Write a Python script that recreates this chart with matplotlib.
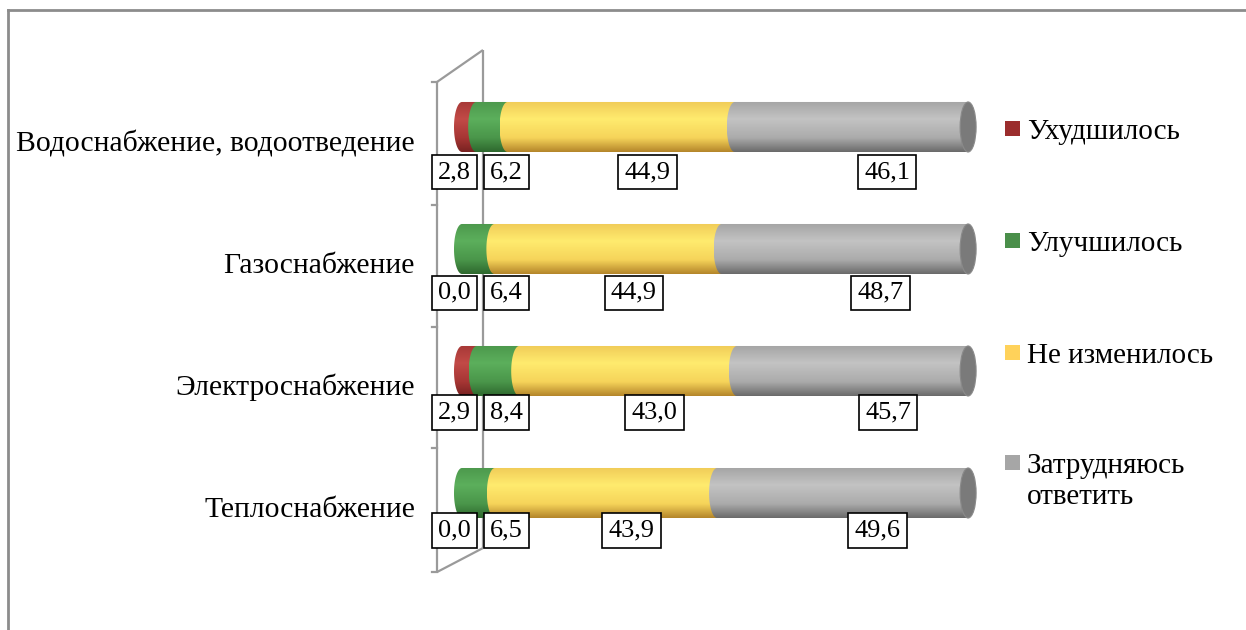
import numpy as np
import matplotlib
matplotlib.use('Agg')
import matplotlib.pyplot as plt
from matplotlib.path import Path
from matplotlib.patches import PathPatch, Ellipse, Rectangle
from matplotlib.lines import Line2D
from matplotlib.colors import to_rgb

plt.rcParams['font.family'] = ['Liberation Serif', 'DejaVu Serif']

# ---------------- data ----------------
categories = ["Водоснабжение, водоотведение", "Газоснабжение",
              "Электроснабжение", "Теплоснабжение"]
worse = [2.8, 0.0, 2.9, 0.0]        # Ухудшилось
better = [6.2, 6.4, 8.4, 6.5]       # Улучшилось
same = [44.9, 44.9, 43.0, 43.9]     # Не изменилось
hard = [46.1, 48.7, 45.7, 49.6]     # Затрудняюсь ответить
series_names = ["Ухудшилось", "Улучшилось", "Не изменилось", "Затрудняюсь ответить"]
legend_colors = ['#9B2D2D', '#4A8F4A', '#FFD25A', '#A6A6A6']

# cylinder shading stops (top, highlight, lower, bottom)
shade_stops = [0.0, 0.35, 0.72, 1.0]
shades = [
    ['#A63836', '#C24A47', '#A63634', '#782221'],
    ['#4C984C', '#5CAF5C', '#4A964A', '#2E682E'],
    ['#F0CB58', '#FFEB6E', '#F6D45A', '#B4852A'],
    ['#A4A4A4', '#C3C3C3', '#ABABAB', '#6A6A6A'],
]
cap_color = '#7A7A7A'

W, H = 1246, 630
fig = plt.figure(figsize=(W / 100, H / 100), dpi=100)

# axes geometry (pixel-derived)
ax = fig.add_axes([400 / W, 30 / H, 600 / W, 560 / H])
XLIM = (-12.25, 106.3)
YLIM = (3.877, -0.713)
ax.set_xlim(*XLIM)
ax.set_ylim(*YLIM)
ax.axis('off')

px_per_x = 600 / (XLIM[1] - XLIM[0])
rx = 8 / px_per_x          # half-width of elliptical caps (data units)
bar_h = 0.41

ypos = np.arange(len(categories))
series = [np.array(worse), np.array(better), np.array(same), np.array(hard)]
lefts = np.zeros(len(categories))


def gradient_img(colors, n=200):
    t = np.linspace(0, 1, n)
    rgb = np.array([to_rgb(c) for c in colors])
    arr = np.stack([np.interp(t, shade_stops, rgb[:, k]) for k in range(3)], axis=-1)
    return arr[:, None, :]


# 3D wall frame lines (drawn behind bars)
frame_c = '#9A9A9A'
xf, xb = -4.94, 4.15
yf_top, yf_bot = -0.369, 3.648
yb_top, yb_bot = -0.631, 3.451
for xs, ys in [([xf, xf], [yf_top, yf_bot]), ([xb, xb], [yb_top, yb_bot]),
               ([xf, xb], [yf_top, yb_top]), ([xf, xb], [yf_bot, yb_bot])]:
    ax.plot(xs, ys, color=frame_c, lw=1.6, zorder=0.5, clip_on=False,
            solid_capstyle='butt')
for yt in [-0.369, 0.639, 1.639, 2.631, 3.648]:
    ax.plot([xf - 1.0, xf], [yt, yt], color=frame_c, lw=1.6, zorder=0.5,
            clip_on=False)

for s_idx, vals in enumerate(series):
    bars = ax.barh(ypos, vals, left=lefts, height=bar_h,
                   color=legend_colors[s_idx], zorder=1, linewidth=0)
    for r, p in enumerate(bars.patches):
        w = p.get_width()
        if w <= 0:
            continue
        x0 = p.get_x()
        x1 = x0 + w
        yb = p.get_y()
        yt = yb + p.get_height()
        yc = (yb + yt) / 2
        hh = p.get_height()
        th = np.linspace(np.pi / 2, 3 * np.pi / 2, 50)
        arc = np.column_stack([x0 + rx * np.cos(th), yc + (hh / 2) * np.sin(th)])
        verts = np.vstack([arc, [[x1, arc[-1, 1]], [x1, arc[0, 1]], arc[0]]])
        codes = [Path.MOVETO] + [Path.LINETO] * (len(verts) - 2) + [Path.CLOSEPOLY]
        clip = PathPatch(Path(verts, codes), transform=ax.transData,
                         facecolor='none', edgecolor='none')
        ax.add_patch(clip)
        ymin, ymax = min(yb, yt), max(yb, yt)
        im = ax.imshow(gradient_img(shades[s_idx]), aspect='auto',
                       extent=(x0 - rx, x1, ymax, ymin), origin='upper',
                       interpolation='bilinear', zorder=2 + s_idx)
        im.set_clip_path(clip)
        if s_idx == len(series) - 1:
            ax.add_patch(Ellipse((x1, yc), 2 * rx, hh, facecolor=cap_color,
                                 edgecolor='#8A8A8A', lw=0.8, zorder=10))
    lefts = lefts + vals

ax.set_xlim(*XLIM)
ax.set_ylim(*YLIM)

# data labels
fmt = lambda v: f"{v:.1f}".replace('.', ',')
box = dict(boxstyle='square,pad=0.24', fc='white', ec='black', lw=1.2)
label_dy = [0.37, 0.36, 0.34, 0.31]
for r in range(len(categories)):
    starts = np.cumsum([0] + [s[r] for s in series])[:-1]
    centers = [starts[k] + series[k][r] / 2 for k in range(4)]
    xs = [c * 1.04 + 3.95 for c in centers]
    xs[0] = -1.5
    xs[1] = xs[0] + 10.3
    for k in range(4):
        ax.text(xs[k], ypos[r] + label_dy[r], fmt(series[k][r]), ha='center',
                va='center', fontsize=19, bbox=box, zorder=20, clip_on=False)

# category labels
for r, cat in enumerate(categories):
    ax.text(-9.3, ypos[r] + 0.2, cat, ha='right', va='baseline', fontsize=21.3,
            clip_on=False)

# legend (manual, Excel-like spacing)
leg_baselines = [139, 251, 363, 473]
for k, name in enumerate(series_names):
    yb = leg_baselines[k]
    fig.patches.append(Rectangle((1005 / W, 1 - (yb - 3) / H), 15 / W, 15 / H,
                                 transform=fig.transFigure,
                                 facecolor=legend_colors[k], edgecolor='none'))
    words = name.split(' ') if k == 3 else [name]
    for j, line in enumerate(words):
        fig.text(1027 / W, 1 - (yb + 31 * j) / H, line, ha='left',
                 va='baseline', fontsize=21)

# outer chart border (left and top)
fig.add_artist(Line2D([8 / W, 8 / W], [0, 1 - 10 / H], transform=fig.transFigure,
                      color='#8C8C8C', lw=2))
fig.add_artist(Line2D([8 / W, 1], [1 - 10 / H, 1 - 10 / H], transform=fig.transFigure,
                      color='#8C8C8C', lw=2))

fig.savefig('out.png', dpi=100)
